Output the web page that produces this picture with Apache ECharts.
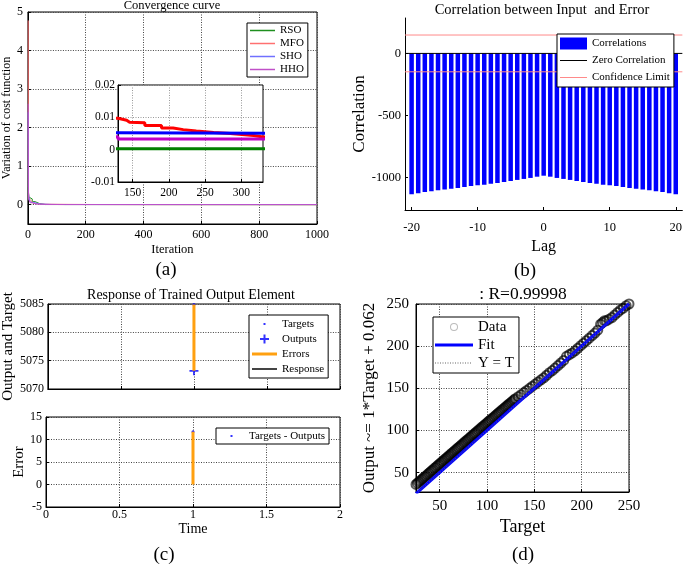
<!DOCTYPE html>
<html><head><meta charset="utf-8">
<script src="https://cdn.jsdelivr.net/npm/echarts@6/dist/echarts.min.js"></script>
<style>html,body{margin:0;padding:0;background:#fff}#c{width:685px;height:564px}</style>
</head><body><div id="c"></div>
<script>
const FONT = 'Liberation Serif';

// ---------- (a) Convergence curve ----------
const rsoIter = [1, 3, 8, 15, 25, 40, 60, 1000];
const rsoCost = [0.45, 0.2, 0.15, 0.08, 0.03, 0.005, 0.0003, 0];
const mfoIter = [1, 2, 3, 5, 8, 12, 18, 25, 35, 50, 80, 110, 130, 142, 146, 167, 190, 206, 220, 238, 262, 285, 317, 330, 400, 600, 800, 1000];
const mfoCost = [4.78, 0.35, 0.22, 0.15, 0.1, 0.06, 0.035, 0.02, 0.015, 0.012, 0.0105, 0.0097, 0.0091, 0.0085, 0.0083, 0.0075, 0.0067, 0.0062, 0.0058, 0.0053, 0.005, 0.0044, 0.0039, 0.0037, 0.0033, 0.0025, 0.002, 0.0018];
const shoIter = [1, 2, 5, 10, 20, 40, 80, 130, 1000];
const shoCost = [2.4, 0.3, 0.12, 0.06, 0.02, 0.008, 0.0052, 0.0048, 0.0047];
const hhoIter = [1, 2, 4, 8, 15, 30, 60, 130, 1000];
const hhoCost = [2.62, 0.15, 0.1, 0.05, 0.02, 0.008, 0.004, 0.0033, 0.0032];
const aXTicks = [0, 200, 400, 600, 800, 1000];
const aYTicks = [0, 1, 2, 3, 4, 5];
const insetXTicks = [150, 200, 250, 300];
const insetYTicks = [-0.01, 0, 0.01, 0.02];

// ---------- (b) Correlation between input and error ----------
const lags = [-20,-19,-18,-17,-16,-15,-14,-13,-12,-11,-10,-9,-8,-7,-6,-5,-4,-3,-2,-1,0,1,2,3,4,5,6,7,8,9,10,11,12,13,14,15,16,17,18,19,20];
const corr = [-1134,-1126,-1115,-1110,-1102,-1096,-1088,-1083,-1075,-1067,-1061,-1056,-1048,-1043,-1035,-1027,-1018,-1010,-1002,-992,-984,-992,-1002,-1010,-1018,-1027,-1035,-1043,-1048,-1056,-1061,-1067,-1075,-1083,-1088,-1096,-1102,-1110,-1115,-1126,-1134];
const confLimit = 148;
const bXTicks = [-20, -10, 0, 10, 20];
const bYTicks = [-1000, -500, 0];

// ---------- (c) Response of trained output element ----------
const cTime = [1];
const cTargets = [5084.9];
const cOutputs = [5073.2];
const cErrors = [11.7];
const cXTicks = [0, 0.5, 1, 1.5, 2];
const cTopTicks = [5070, 5075, 5080, 5085];
const cErrTicks = [-5, 0, 5, 10, 15];

// ---------- (d) Regression ----------
const dTarget = [25,26.5,28,29.5,31,32.5,34,35.5,37,38.5,40,41.5,43,44.5,46,47.5,49,50.5,52,53.5,55,56.5,58,59.5,61,62.5,64,65.5,67,68.5,70,71.5,73,74.5,76,77.5,79,80.5,82,83.5,85,86.5,88,89.5,91,92.5,94,95.5,97,98.5,100,101.5,103,104.5,106,107.5,109,110.5,112,113.5,115,116.5,118,119.5,121,122.5,124,125.5,127,128.5,130,
  133,136,139,142,145,148,151,154,157,160,163,166,169,172,175,178,181,184,187,190,193,196,199,202,205,208,211,214,217,220,222,224,226,229,232,235,238,241,244,247,250];
const dOutput = [36,37.4,38.9,40.3,41.8,43.2,44.8,46.1,47.7,49.1,50.6,52.1,53.5,55.1,56.4,58,59.4,60.9,62.4,63.8,65.3,66.8,68.2,69.7,71.1,72.7,74.1,75.5,77,78.5,79.9,81.4,82.8,84.3,85.8,87.2,88.7,90.1,91.6,93,94.5,96,97.4,98.9,100.3,101.8,103.2,104.7,106.1,107.6,109,110.5,111.9,113.4,114.8,116.2,117.7,119.1,120.6,122,123.4,124.9,126.3,127.7,129.2,130.6,132,133.4,134.9,136.3,137.7,
  140,142.5,145,147.5,150,152.5,155,157.5,160,162.5,165.5,168.5,171,174,177,180,183,188,190,192,194.5,197.5,200.5,203.5,206.5,209.5,212.5,215.5,219,226,228,230,230,232,234,237,240,243,245,248,250];
const fitEnds = [25, 250];
const fitSlope = 1, fitIntercept = 0.062;
const dTicks = [50, 100, 150, 200, 250];

const zip = (a, b) => a.map((v, i) => [v, b[i]]);
const plain = v => String(v);

function mkAxis(gridIndex, min, max, ticks, o) {
  return {
    type: 'value', gridIndex, min, max,
    axisLine: {show: true, onZero: false, lineStyle: {color: '#000', width: 1}},
    axisTick: {show: true, inside: true, length: 3, customValues: ticks, lineStyle: {color: '#000'}},
    axisLabel: {show: o.label !== false, customValues: ticks, formatter: plain, fontSize: o.fs, margin: o.margin, color: '#000', fontFamily: FONT},
    splitLine: {show: !!o.grid, lineStyle: {type: [1, 1.5], color: o.gridColor || '#444', width: 1}},
    name: o.name || '', nameLocation: 'middle', nameGap: o.nameGap || 0,
    nameTextStyle: {fontSize: o.nfs || 12, color: '#000', fontFamily: FONT},
    z: o.z || 0
  };
}

// legend icon shapes (bounding moves keep the icon box size)
const lineIcon = (w, h, lw) => `path://M0,0 M${w},${h} M0,${(h - lw) / 2} L${w},${(h - lw) / 2} L${w},${(h + lw) / 2} L0,${(h + lw) / 2} Z`;
function dottedIcon(w, h) {
  let p = `path://M0,0 M${w},${h}`;
  for (let x = 0; x + 1 <= w; x += 2.5) p += ` M${x},${h / 2 - 0.5} L${x + 1},${h / 2 - 0.5} L${x + 1},${h / 2 + 0.5} L${x},${h / 2 + 0.5} Z`;
  return p;
}
const dotIcon = 'path://M0,0 M25,11 M11.5,4.5 L13.5,4.5 L13.5,6.5 L11.5,6.5 Z';
const plusIcon = 'path://M0,0 M25,11 M11.5,1 L13.5,1 L13.5,4.5 L17,4.5 L17,6.5 L13.5,6.5 L13.5,10 L11.5,10 L11.5,6.5 L8,6.5 L8,4.5 L11.5,4.5 Z';
const plusSymbol = 'path://M4,0 L6,0 L6,4 L10,4 L10,6 L6,6 L6,10 L4,10 L4,6 L0,6 L0,4 L4,4 Z';
const ringIcon = 'path://M0,0 M38,14 M15,7 A4,4 0 1,1 23,7 A4,4 0 1,1 15,7 Z M16,7 A3,3 0 1,0 22,7 A3,3 0 1,0 16,7 Z';
const noBorder = {borderWidth: 0};

const legendBase = {
  orient: 'vertical', backgroundColor: '#fff', borderColor: '#000', borderWidth: 1, borderRadius: 0,
  itemGap: 2, selectedMode: false, z: 10
};

const txt = (x, y, text, size) => ({
  type: 'text', x, y, z: 20,
  style: {text, fontSize: size, fontFamily: FONT, fill: '#000', align: 'center', verticalAlign: 'middle'}
});

const gridBox = {show: true, borderColor: '#000', borderWidth: 1, backgroundColor: '#fff'};

const option = {
  animation: false,
  textStyle: {fontFamily: FONT},
  grid: [
    Object.assign({left: 27, top: 12, width: 290, height: 212}, gridBox),
    Object.assign({left: 118, top: 85, width: 145, height: 97, z: 5}, gridBox),
    {left: 405, top: 18, width: 278, height: 192},
    Object.assign({left: 46, top: 304, width: 294, height: 85}, gridBox),
    Object.assign({left: 46, top: 417, width: 294, height: 90}, gridBox),
    Object.assign({left: 416, top: 304, width: 213, height: 188}, gridBox)
  ],
  xAxis: [
    mkAxis(0, 0, 1000, aXTicks, {fs: 12, margin: 5, grid: true, name: 'Iteration', nameGap: 19, nfs: 12.5}),
    mkAxis(1, 130, 330, insetXTicks, {fs: 11.5, margin: 5, grid: true, gridColor: '#999', z: 6}),
    mkAxis(2, -21, 21, bXTicks, {fs: 12.5, margin: 11, name: 'Lag', nameGap: 29, nfs: 16}),
    mkAxis(3, 0, 2, cXTicks, {label: false, grid: true}),
    mkAxis(4, 0, 2, cXTicks, {fs: 12, margin: 2, grid: true, name: 'Time', nameGap: 14, nfs: 14}),
    mkAxis(5, 25, 250, dTicks, {fs: 15, margin: 7, grid: true, name: 'Target', nameGap: 26, nfs: 18})
  ],
  yAxis: [
    mkAxis(0, -0.5, 5, aYTicks, {fs: 12, margin: 5, grid: true, name: 'Variation of cost function', nameGap: 13, nfs: 12}),
    mkAxis(1, -0.01, 0.02, insetYTicks, {fs: 11.5, margin: 3, grid: true, gridColor: '#999', z: 6}),
    mkAxis(2, -1260, 285, bYTicks, {fs: 12.5, margin: 4, name: 'Correlation', nameGap: 29, nfs: 17}),
    mkAxis(3, 5070, 5085, cTopTicks, {fs: 12, margin: 4, grid: true, name: 'Output and Target', nameGap: 31, nfs: 15}),
    mkAxis(4, -5, 15, cErrTicks, {fs: 12, margin: 4, grid: true, name: 'Error', nameGap: 19, nfs: 15}),
    mkAxis(5, 27, 250, dTicks, {fs: 15, margin: 7, grid: true, name: 'Output ~= 1*Target + 0.062', nameGap: 38, nfs: 17})
  ],
  legend: [
    Object.assign({}, legendBase, {
      left: 247, top: 23, padding: [2, 4, 2, 3], itemWidth: 25, itemHeight: 9, itemGap: 2,
      textStyle: {fontSize: 11, fontFamily: FONT, color: '#000', lineHeight: 11},
      data: ['RSO', 'MFO', 'SHO', 'HHO'].map(n => ({name: n, icon: lineIcon(25, 9, 1.5), itemStyle: noBorder}))
    }),
    Object.assign({}, legendBase, {
      left: 557, top: 34, padding: [3, 4, 3, 3], itemWidth: 27, itemHeight: 12, itemGap: 4,
      textStyle: {fontSize: 11, fontFamily: FONT, color: '#000', lineHeight: 13},
      data: [{name: 'Correlations', icon: 'rect', itemStyle: noBorder},
             {name: 'Zero Correlation', icon: lineIcon(27, 12, 1), itemStyle: noBorder},
             {name: 'Confidence Limit', icon: lineIcon(27, 12, 1), itemStyle: noBorder}]
    }),
    Object.assign({}, legendBase, {
      left: 249, top: 315, padding: [3, 4, 3, 3], itemWidth: 25, itemHeight: 11, itemGap: 3,
      textStyle: {fontSize: 11, fontFamily: FONT, color: '#000', lineHeight: 12},
      data: [
        {name: 'Targets', icon: dotIcon, itemStyle: noBorder},
        {name: 'Outputs', icon: plusIcon, itemStyle: noBorder},
        {name: 'Errors', icon: lineIcon(25, 11, 3), itemStyle: noBorder},
        {name: 'Response', icon: lineIcon(25, 11, 2), itemStyle: noBorder}]
    }),
    Object.assign({}, legendBase, {
      left: 216, top: 428, padding: [2, 4, 2, 3], itemWidth: 25, itemHeight: 11,
      textStyle: {fontSize: 11, fontFamily: FONT, color: '#000', lineHeight: 12},
      data: [{name: 'Targets - Outputs', icon: dotIcon, itemStyle: noBorder}]
    }),
    Object.assign({}, legendBase, {
      left: 433, top: 317, padding: [2, 5, 2, 2], itemWidth: 38, itemHeight: 14, itemGap: 2,
      textStyle: {fontSize: 15, fontFamily: FONT, color: '#000', lineHeight: 16},
      data: [{name: 'Data', icon: ringIcon, itemStyle: {color: '#aaa', borderWidth: 0}},
             {name: 'Fit', icon: lineIcon(38, 14, 3), itemStyle: noBorder},
             {name: 'Y = T', icon: dottedIcon(38, 14), itemStyle: noBorder}]
    })
  ],
  graphic: [
    txt(172, 6, 'Convergence curve', 12.5),
    txt(166, 270, '(a)', 19),
    txt(542, 10, 'Correlation between Input  and Error', 14.5),
    txt(525, 271, '(b)', 19),
    txt(191, 295, 'Response of Trained Output Element', 14),
    txt(164, 555, '(c)', 19),
    txt(523, 294, ': R=0.99998', 17.5),
    txt(523, 555, '(d)', 19)
  ],
  series: [
    // (a) main
    {name: 'RSO', type: 'line', xAxisIndex: 0, yAxisIndex: 0, data: zip(rsoIter, rsoCost), symbol: 'none', step: 'end', lineStyle: {color: '#1f8f1f', width: 1}, itemStyle: {color: '#1f8f1f'}},
    {name: 'MFO', type: 'line', xAxisIndex: 0, yAxisIndex: 0, data: zip(mfoIter, mfoCost), symbol: 'none', step: 'end', lineStyle: {color: '#ff7070', width: 1}, itemStyle: {color: '#ff7070'}},
    {name: 'SHO', type: 'line', xAxisIndex: 0, yAxisIndex: 0, data: zip(shoIter, shoCost), symbol: 'none', step: 'end', lineStyle: {color: '#7070ff', width: 1}, itemStyle: {color: '#7070ff'}},
    {name: 'HHO', type: 'line', xAxisIndex: 0, yAxisIndex: 0, data: zip(hhoIter, hhoCost), symbol: 'none', step: 'end', lineStyle: {color: '#c050c8', width: 1}, itemStyle: {color: '#c050c8'}},
    // (a) inset
    {name: 'RSO (inset)', type: 'line', xAxisIndex: 1, yAxisIndex: 1, data: zip(rsoIter, rsoCost), symbol: 'none', step: 'end', z: 7, lineStyle: {color: '#008000', width: 3}},
    {name: 'MFO (inset)', type: 'line', xAxisIndex: 1, yAxisIndex: 1, data: zip(mfoIter, mfoCost), symbol: 'none', step: 'end', z: 7, lineStyle: {color: '#ff0000', width: 3}},
    {name: 'SHO (inset)', type: 'line', xAxisIndex: 1, yAxisIndex: 1, data: zip(shoIter, shoCost), symbol: 'none', step: 'end', z: 7, lineStyle: {color: '#0000ff', width: 3}},
    {name: 'HHO (inset)', type: 'line', xAxisIndex: 1, yAxisIndex: 1, data: zip(hhoIter, hhoCost), symbol: 'none', step: 'end', z: 7, lineStyle: {color: '#c000c8', width: 3}},
    // (b)
    {name: 'Correlations', type: 'bar', xAxisIndex: 2, yAxisIndex: 2, data: zip(lags, corr), barWidth: 4.5, itemStyle: {color: '#0000ff'}},
    {name: 'Zero Correlation', type: 'line', xAxisIndex: 2, yAxisIndex: 2, data: [[-21, 0], [21, 0]], symbol: 'none', lineStyle: {color: '#000', width: 1}, itemStyle: {color: '#000'}},
    {name: 'Confidence Limit', type: 'line', xAxisIndex: 2, yAxisIndex: 2, data: [[-21, confLimit], [21, confLimit]], symbol: 'none', lineStyle: {color: '#ff8a8a', width: 1}, itemStyle: {color: '#ff8a8a'}},
    {name: 'Confidence Limit', type: 'line', xAxisIndex: 2, yAxisIndex: 2, data: [[-21, -confLimit], [21, -confLimit]], symbol: 'none', lineStyle: {color: '#ff8a8a', width: 1}, itemStyle: {color: '#ff8a8a'}},
    // (c) top
    {name: 'Errors', type: 'line', xAxisIndex: 3, yAxisIndex: 3, data: [[cTime[0], cOutputs[0]], [cTime[0], cTargets[0]]], symbol: 'none', lineStyle: {color: '#ffa010', width: 3}, itemStyle: {color: '#ffa010'}},
    {name: 'Response', type: 'line', xAxisIndex: 3, yAxisIndex: 3, data: zip(cTime, cOutputs), symbol: 'none', lineStyle: {color: '#444', width: 2}, itemStyle: {color: '#444'}},
    {name: 'Targets', type: 'scatter', xAxisIndex: 3, yAxisIndex: 3, data: zip(cTime, cTargets), symbol: 'circle', symbolSize: 3, itemStyle: {color: '#0000ff'}},
    {name: 'Outputs', type: 'scatter', xAxisIndex: 3, yAxisIndex: 3, data: zip(cTime, cOutputs), symbol: plusSymbol, symbolSize: 9, itemStyle: {color: '#0000ff'}},
    // (c) bottom
    {name: 'Error bar', type: 'line', xAxisIndex: 4, yAxisIndex: 4, data: [[cTime[0], 0], [cTime[0], cErrors[0]]], symbol: 'none', lineStyle: {color: '#ffa010', width: 3}},
    {name: 'Targets - Outputs', type: 'scatter', xAxisIndex: 4, yAxisIndex: 4, data: zip(cTime, cErrors), symbol: 'circle', symbolSize: 3, itemStyle: {color: '#0000ff'}},
    // (d)
    {name: 'Data', type: 'scatter', xAxisIndex: 5, yAxisIndex: 5, data: zip(dTarget, dOutput), symbol: 'circle', symbolSize: 9,
      itemStyle: {color: 'rgba(0,0,0,0)', borderColor: 'rgba(0,0,0,0.82)', borderWidth: 2}},
    {name: 'Fit', type: 'line', xAxisIndex: 5, yAxisIndex: 5, data: fitEnds.map(t => [t, fitSlope * t + fitIntercept]), symbol: 'none', lineStyle: {color: '#0000ff', width: 3}, itemStyle: {color: '#0000ff'}},
    {name: 'Y = T', type: 'line', xAxisIndex: 5, yAxisIndex: 5, data: fitEnds.map(t => [t, t]), symbol: 'none', lineStyle: {color: '#666', width: 1, type: [1, 1.5]}, itemStyle: {color: '#666'}}
  ]
};

const chart = echarts.init(document.getElementById('c'), null, {renderer: 'canvas'});
chart.setOption(option);
</script>
</body></html>
